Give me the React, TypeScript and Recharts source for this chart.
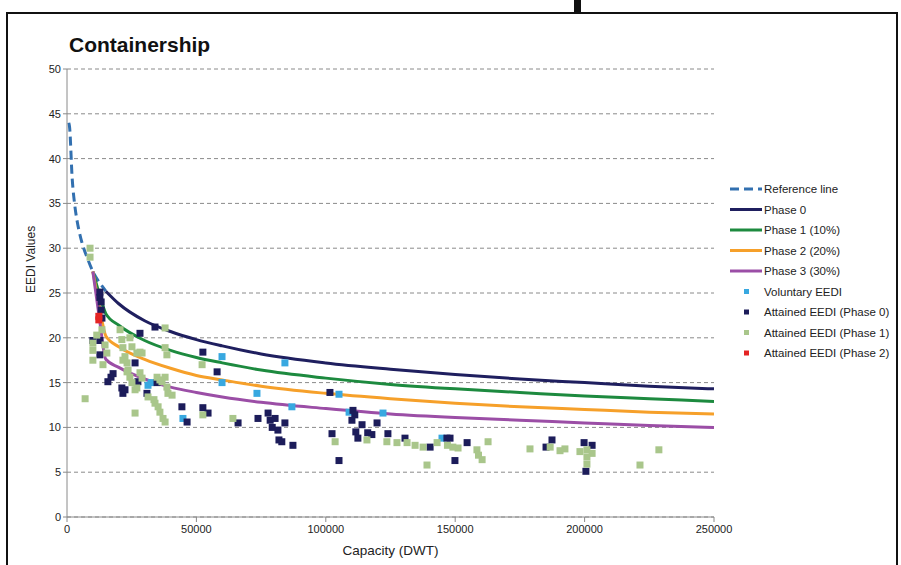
import React from 'react';
import { ComposedChart, Line, Scatter, XAxis, YAxis, CartesianGrid } from 'recharts';

// curves: [capacity DWT, EEDI]
const referenceLine: [number, number][] = [
  [700, 44.0], [1000, 43.5], [2000, 37.8], [3000, 34.8], [4000, 32.9], [5000, 31.5],
  [6000, 30.4], [8000, 28.8], [10000, 27.4], [12000, 26.4], [14000, 25.6], [15000, 25.2],
];
const phase0: [number, number][] = [
  [15000, 25.2], [20000, 23.8], [30000, 21.9], [40000, 20.7], [50000, 19.8], [60000, 19.1],
  [75000, 18.2], [100000, 17.2], [125000, 16.5], [150000, 15.9], [175000, 15.4],
  [200000, 15.0], [225000, 14.6], [250000, 14.3],
];
const phase1: [number, number][] = [
  [10000, 27.4], [12500, 24.9], [15000, 22.7], [20000, 21.4], [30000, 19.7], [40000, 18.6],
  [50000, 17.8], [60000, 17.2], [75000, 16.4], [100000, 15.5], [125000, 14.8],
  [150000, 14.3], [175000, 13.9], [200000, 13.5], [225000, 13.2], [250000, 12.9],
];
const phase2: [number, number][] = [
  [10000, 27.4], [12500, 23.5], [15000, 20.2], [20000, 19.0], [30000, 17.6], [40000, 16.6],
  [50000, 15.8], [60000, 15.3], [75000, 14.6], [100000, 13.8], [125000, 13.2],
  [150000, 12.7], [175000, 12.3], [200000, 12.0], [225000, 11.7], [250000, 11.5],
];
const phase3: [number, number][] = [
  [10000, 27.4], [12500, 22.2], [15000, 17.6], [20000, 16.7], [30000, 15.4], [40000, 14.5],
  [50000, 13.9], [60000, 13.4], [75000, 12.8], [100000, 12.1], [125000, 11.5],
  [150000, 11.1], [175000, 10.8], [200000, 10.5], [225000, 10.2], [250000, 10.0],
];

// ships
const voluntary: [number, number][] = [
  [31300, 14.7], [32500, 15.0], [59900, 17.9], [59900, 15.0], [44800, 11.0], [73400, 13.8],
  [84200, 17.2], [86900, 12.3], [105100, 13.7], [109000, 11.7], [122100, 11.6], [144900, 8.8],
];
const attainedP0: [number, number][] = [
  [12700, 25.1], [12700, 24.5], [13200, 24.0], [13200, 23.1], [13500, 22.2], [10000, 19.7],
  [12700, 19.7], [12700, 18.1], [15800, 15.1], [17000, 15.6], [17800, 16.0], [21200, 14.4],
  [21600, 13.8], [22400, 14.2], [26300, 17.2], [27400, 15.1], [30900, 13.8], [34800, 15.0],
  [28200, 20.5], [34000, 21.2], [44400, 12.3], [46400, 10.6], [52500, 18.4], [52500, 12.2],
  [54500, 11.6], [58000, 16.2], [66100, 10.5], [73800, 11.0], [77700, 11.6], [78500, 10.8],
  [79300, 10.0], [80400, 11.0], [81500, 9.7], [84200, 10.5], [81900, 8.6], [83000, 8.4],
  [87300, 8.0], [101600, 13.9], [110500, 11.9], [111200, 11.4], [110100, 10.8], [114000, 10.3],
  [119800, 10.5], [102400, 9.3], [111600, 9.5], [112400, 8.8], [116200, 9.4], [117800, 9.2],
  [105100, 6.3], [124000, 9.3], [130600, 8.8], [140300, 7.8], [146800, 8.8], [148000, 8.8],
  [154600, 8.3], [149900, 6.3], [187400, 8.6], [185100, 7.8], [199800, 8.3], [202900, 8.0],
  [200500, 5.1],
];
const attainedP1: [number, number][] = [
  [7000, 13.2], [8900, 30.0], [8900, 29.0], [10000, 19.4], [10000, 18.6], [10000, 17.5],
  [11500, 20.3], [13500, 20.9], [14700, 19.2], [15400, 18.3], [13900, 17.0], [20500, 20.9],
  [21200, 19.8], [21600, 18.9], [22400, 17.9], [23200, 17.2], [23600, 16.4], [24300, 15.6],
  [25100, 15.0], [26300, 14.2], [24300, 20.0], [25100, 19.0], [27000, 18.3], [28200, 18.4],
  [28200, 16.1], [29000, 15.5], [26300, 11.6], [31300, 13.4], [34000, 12.7], [35200, 12.3],
  [35900, 11.7], [37100, 11.0], [37900, 10.6], [34800, 15.6], [35900, 15.3], [37900, 15.6],
  [38600, 14.5], [39000, 13.8], [40600, 13.6], [37900, 18.9], [38600, 18.1], [37900, 21.1],
  [52200, 17.0], [64100, 11.0], [52500, 11.4], [21600, 17.5], [23200, 16.2], [27000, 14.4],
  [29000, 18.3], [33600, 13.1], [36700, 15.1], [103600, 8.4], [115900, 8.6], [123600, 8.4],
  [127500, 8.3], [131400, 8.3], [134500, 8.0], [137600, 7.8], [139100, 5.8], [143000, 8.3],
  [147000, 8.0], [149100, 7.8], [151100, 7.7], [158400, 7.5], [159000, 6.9], [160400, 6.4],
  [162700, 8.4], [178900, 7.6], [186700, 7.8], [190500, 7.4], [192400, 7.6], [198200, 7.3],
  [200900, 7.5], [202900, 7.1], [200900, 5.9], [200900, 6.7], [221400, 5.8], [228700, 7.5],
];
const attainedP2: [number, number][] = [[12300, 22.0], [12300, 22.4]];

const xTicks = [0, 50000, 100000, 150000, 200000, 250000];
const yTicks = [0, 5, 10, 15, 20, 25, 30, 35, 40, 45, 50];

const toRows = (pts: [number, number][]) => pts.map(([x, y]) => ({ x, y }));

const lineSeries = [
  { name: 'Reference line', data: referenceLine, color: '#3270b0', dashed: true },
  { name: 'Phase 0', data: phase0, color: '#1f1f5f', dashed: false },
  { name: 'Phase 1 (10%)', data: phase1, color: '#1d8a3f', dashed: false },
  { name: 'Phase 2 (20%)', data: phase2, color: '#f6a02a', dashed: false },
  { name: 'Phase 3 (30%)', data: phase3, color: '#9b4ea6', dashed: false },
];
const pointSeries = [
  { name: 'Voluntary EEDI', data: voluntary, color: '#38a8e0' },
  { name: 'Attained EEDI (Phase 0)', data: attainedP0, color: '#1c1c5a' },
  { name: 'Attained EEDI (Phase 1)', data: attainedP1, color: '#a9c68b' },
  { name: 'Attained EEDI (Phase 2)', data: attainedP2, color: '#e42424' },
];

const FONT = '"Liberation Sans", Arial, sans-serif';

const Square = (props: any) => {
  const { cx, cy, fill } = props;
  if (cx == null || cy == null) return null;
  return <rect x={cx - 3.5} y={cy - 3.5} width={7} height={7} fill={fill} />;
};

function ChartLegend() {
  const items = [...lineSeries.map((s) => ({ ...s, kind: 'line' })), ...pointSeries.map((s) => ({ ...s, kind: 'point', dashed: false }))];
  return (
    <svg width={175} height={190} style={{ position: 'absolute', left: 726, top: 178 }}>
      {items.map((it, i) => {
        const y = 11 + i * 20.5;
        return (
          <g key={it.name}>
            {it.kind === 'line' ? (
              <line x1={4} x2={36} y1={y} y2={y} stroke={it.color} strokeWidth={3}
                strokeDasharray={it.dashed ? '9 5' : undefined} />
            ) : (
              <rect x={18} y={y - 2.5} width={5} height={5} fill={it.color} />
            )}
            <text x={38} y={y + 4} fontSize={11.5} fontFamily={FONT} fill="#222">{it.name}</text>
          </g>
        );
      })}
    </svg>
  );
}

export default function App() {
  return (
    <div style={{ position: 'absolute', left: 0, top: 0, width: 901, height: 565, background: '#fff', overflow: 'hidden', fontFamily: FONT }}>
      {/* frame + cropped heading remnant */}
      <div style={{ position: 'absolute', left: 6, top: 12, width: 892, height: 560, border: '2px solid #111', borderBottom: 'none', boxSizing: 'border-box' }} />
      <div style={{ position: 'absolute', left: 574, top: 0, width: 7, height: 13, background: '#111' }} />
      <div style={{ position: 'absolute', left: 69, top: 33, fontSize: 21, fontWeight: 'bold', color: '#111' }}>Containership</div>

      <div style={{ position: 'absolute', left: 0, top: 0 }}>
        <ComposedChart width={901} height={565} margin={{ top: 69, right: 187, bottom: 8, left: 27 }}>
          <CartesianGrid vertical={false} stroke="#8a8a8a" strokeDasharray="4 3" />
          <XAxis
            type="number"
            dataKey="x"
            domain={[0, 250000]}
            ticks={xTicks}
            height={40}
            tickSize={5}
            tickMargin={3}
            stroke="#8a8a8a"
            tick={{ fontSize: 11, fill: '#222', fontFamily: FONT }}
            label={{ value: 'Capacity (DWT)', position: 'insideBottom', offset: 2, fontSize: 13.5, fill: '#222', fontFamily: FONT }}
            allowDataOverflow
          />
          <YAxis
            type="number"
            domain={[0, 50]}
            ticks={yTicks}
            width={40}
            tickSize={4}
            stroke="#8a8a8a"
            tick={{ fontSize: 11, fill: '#222', fontFamily: FONT }}
            label={{ value: 'EEDI Values', angle: -90, position: 'insideLeft', offset: 4, fontSize: 12, fill: '#222', fontFamily: FONT }}
            allowDataOverflow
          />
          {lineSeries.map((s) => (
            <Line
              key={s.name}
              data={toRows(s.data)}
              dataKey="y"
              type="monotone"
              stroke={s.color}
              strokeWidth={3}
              strokeDasharray={s.dashed ? '9 5' : undefined}
              dot={false}
              activeDot={false}
              isAnimationActive={false}
            />
          ))}
          {pointSeries.map((s) => (
            <Scatter
              key={s.name}
              data={toRows(s.data)}
              dataKey="y"
              fill={s.color}
              shape={<Square />}
              isAnimationActive={false}
            />
          ))}
        </ComposedChart>
      </div>
      <ChartLegend />
    </div>
  );
}
